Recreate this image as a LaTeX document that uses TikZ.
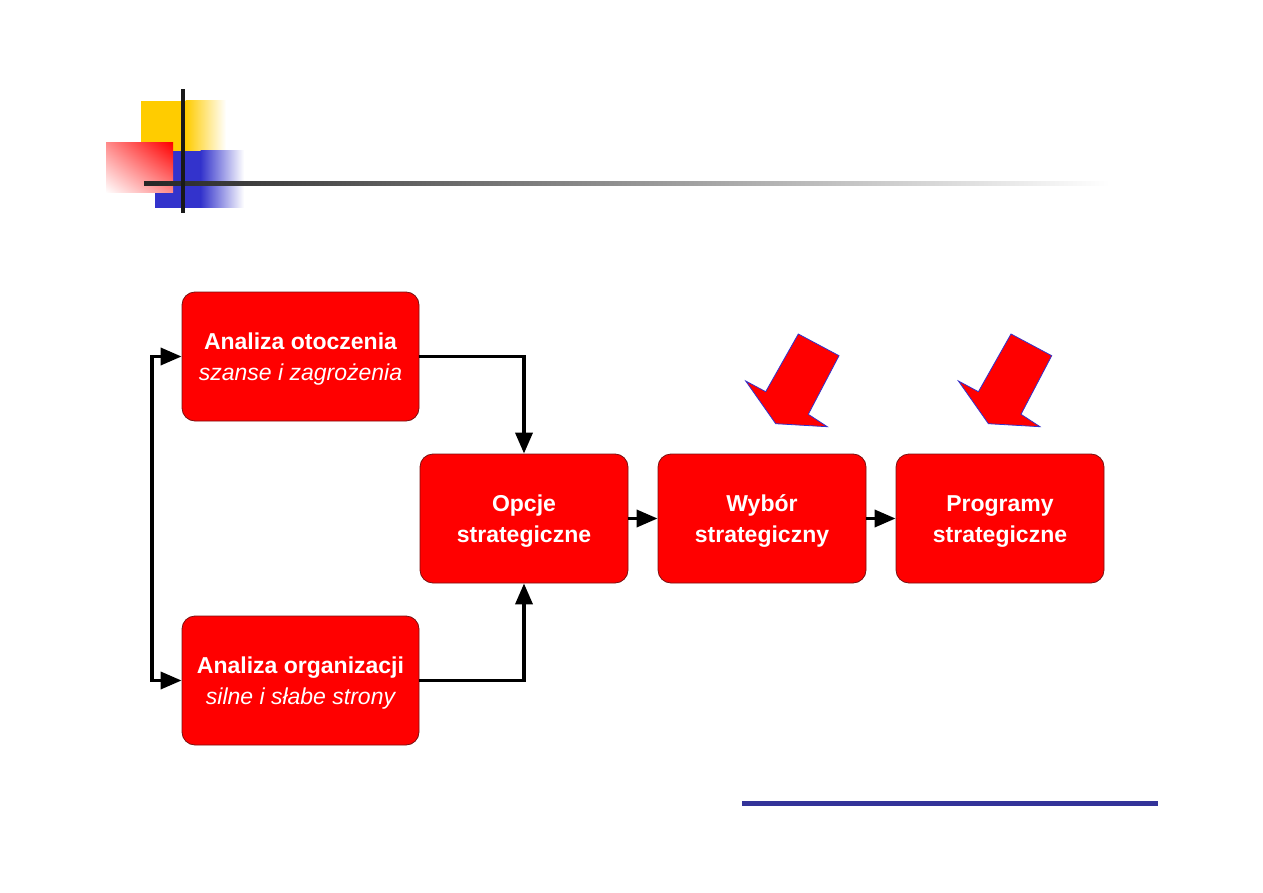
\documentclass[tikz,border=0pt]{standalone}
\usepackage{fontspec}
\setmainfont{Liberation Sans}
\usetikzlibrary{arrows.meta,shadings}
\definecolor{pyellow}{HTML}{FFCC00}
\definecolor{pblue}{HTML}{3333CC}
\definecolor{pred}{HTML}{FF0000}
\definecolor{lineblue}{HTML}{333399}
\definecolor{boxedge}{HTML}{7A1010}
\newcommand{\mytopstrut}{\rule{0pt}{22pt}}
\tikzset{
  box/.style={draw=boxedge, line width=0.8pt, fill=pred, rounded corners=13pt,
    text=white, align=center, font=\fontsize{23}{31}\selectfont\bfseries, inner sep=0pt},
  bigbox/.style={box, minimum width=237pt, minimum height=129pt},
  midbox/.style={box, minimum width=208pt, minimum height=129pt},
  conn/.style={line width=3.6pt, draw=black, line join=miter,
    arrows={-Triangle[length=21pt,width=17pt]}},
  conn2/.style={line width=3.6pt, draw=black, line join=miter,
    arrows={Triangle[length=21pt,width=17pt]-Triangle[length=21pt,width=17pt]}},
  blockarrow/.style={fill=pred, draw=pblue, line width=0.8pt, line join=miter},
}
\begin{document}
\begin{tikzpicture}[x=1pt,y=-1pt]
\useasboundingbox (0,0) rectangle (1263,893);
% header decoration
\fill[pyellow] (141,101) rectangle (186,152);
\shade[left color=pyellow, right color=white] (185.5,101) rectangle (226,152);
\fill[pblue] (155,151) rectangle (201,208);
\shade[left color=pblue, right color=white] (200.5,151) rectangle (244,208);
\shade[upper right=pred, lower left=white, upper left=pred!45!white, lower right=pred!45!white] (106,143) rectangle (173,193);
\shade[left color=black!85, middle color=black!27, right color=white] (144,182) rectangle (1110,186);
\fill[black!90] (181,89) rectangle (185,213);
% footer line
\fill[lineblue] (742,801) rectangle (1158,806);
% boxes
\node[bigbox] (ao) at (300.5,356.5) {\mytopstrut Analiza otoczenia\\{\normalfont\itshape szanse i zagrożenia}};
\node[bigbox] (og) at (300.5,680.5) {\mytopstrut Analiza organizacji\\{\normalfont\itshape silne i słabe strony}};
\node[midbox] (op) at (524,518.5) {\mytopstrut Opcje\\strategiczne};
\node[midbox] (wy) at (762,518.5) {\mytopstrut Wybór\\strategiczny};
\node[midbox] (pr) at (1000,518.5) {\mytopstrut Programy\\strategiczne};
% connectors
\coordinate (L1) at (152,356.5);
\coordinate (L2) at (152,680.5);
\draw[conn] (ao.east) -| (op.north);
\draw[conn] (og.east) -| (op.south);
\draw[conn2] (ao.west) -- (L1) -- (L2) -- (og.west);
\draw[conn] (op.east) -- (wy.west);
\draw[conn] (wy.east) -- (pr.west);
% block arrows
\foreach \dx in {0,212.7}{
\filldraw[blockarrow, shift={(\dx,0)}] (798.3,334) -- (839,355.7) -- (808.3,414.3) -- (827.3,426.7)
  -- (775.7,423.7) -- (745.7,381) -- (765.7,391.7) -- cycle;
}
\end{tikzpicture}
\end{document}
